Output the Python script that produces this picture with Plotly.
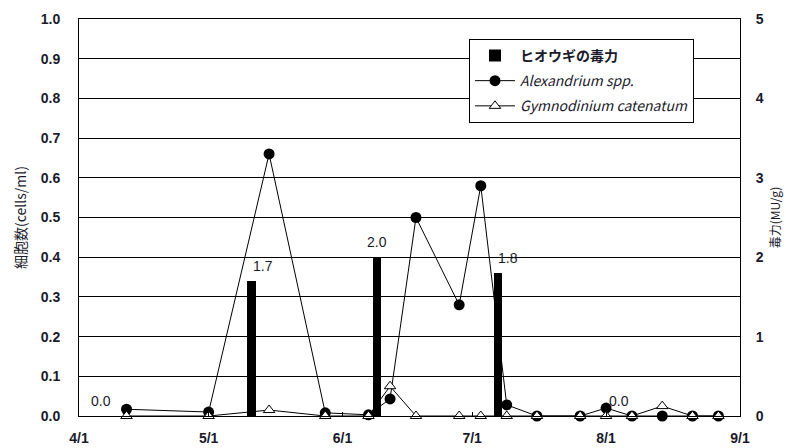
import plotly.graph_objects as go
from plotly.subplots import make_subplots

YEAR = "2006"

# --- data ---
sample_dates = ["04-12", "05-01", "05-15", "05-28", "06-07", "06-12", "06-18", "06-28",
                "07-03", "07-09", "07-16", "07-26", "08-01", "08-07", "08-14", "08-21", "08-27"]
alexandrium = [0.017, 0.010, 0.66, 0.008, 0.003, 0.043, 0.50, 0.28,
               0.58, 0.028, 0.0, 0.0, 0.020, 0.0, 0.0, 0.0, 0.0]
gymnodinium = [0.0, 0.0, 0.015, 0.0, 0.0, 0.075, 0.0, 0.0,
               0.0, 0.0, 0.0, 0.0, 0.0, 0.0, 0.025, 0.0, 0.0]

tox_dates = ["04-06", "05-11", "06-09", "07-07", "08-04"]
toxicity = [0.0, 1.7, 2.0, 1.8, 0.0]
tox_labels = ["0.0", "1.7", "2.0", "1.8", "0.0"]

month_ticks = ["04-01", "05-01", "06-01", "07-01", "08-01", "09-01"]
month_labels = ["4/1", "5/1", "6/1", "7/1", "8/1", "9/1"]

# label horizontal nudges (style only)
label_xshift = [0, 11, 0, 10, 0]

def d(s):
    return f"{YEAR}-{s}"

sx = [d(s) for s in sample_dates]
tx = [d(s) for s in tox_dates]

FONT = "Liberation Sans, Arial, Noto Sans CJK JP, sans-serif"
JP = "Noto Sans CJK JP, Liberation Sans, sans-serif"
TXT = "#1a1a2a"

fig = make_subplots(specs=[[{"secondary_y": True}]])

fig.add_trace(go.Bar(
    x=tx, y=toxicity, name="<b>ヒオウギの毒力</b>", legendgroup="a",
    marker=dict(color="black", line=dict(width=0)),
    width=2 * 86400000,
), secondary_y=True)

fig.add_trace(go.Scatter(
    x=sx, y=alexandrium, name="<i>Alexandrium spp.</i>", mode="lines+markers",
    legendgroup="b",
    line=dict(color="black", width=1),
    marker=dict(symbol="circle", size=11, color="black"),
    cliponaxis=False,
), secondary_y=False)

fig.add_trace(go.Scatter(
    x=sx, y=gymnodinium, name="<i>Gymnodinium catenatum</i>", mode="lines+markers",
    legendgroup="c",
    line=dict(color="black", width=1),
    marker=dict(symbol="triangle-up", size=10, color="white", line=dict(color="black", width=1)),
    cliponaxis=False,
), secondary_y=False)

for xv, yv, lab, xs in zip(tx, toxicity, tox_labels, label_xshift):
    fig.add_annotation(x=xv, y=yv, yref="y2", text=lab, showarrow=False,
                       yanchor="bottom", yshift=5, xshift=xs,
                       font=dict(family=FONT, size=14, color=TXT))

fig.update_layout(
    width=786, height=448,
    margin=dict(l=79, r=46, t=19, b=32, autoexpand=False),
    paper_bgcolor="white", plot_bgcolor="white",
    font=dict(family=FONT, size=13, color=TXT),
    showlegend=True,
    legend=dict(x=0.590, y=0.950, xanchor="left", yanchor="top",
                bgcolor="white", bordercolor="black", borderwidth=1,
                font=dict(family=JP, size=14, color=TXT),
                tracegroupgap=4, itemwidth=40),
    bargap=0,
)

fig.update_xaxes(
    type="date", automargin=False, domain=[0, 1],
    range=[d("04-01"), d("09-01")],
    tickvals=[d(s) for s in month_ticks], ticktext=month_labels,
    ticks="inside", ticklen=4, tickcolor="black",
    ticklabelstandoff=9,
    showline=True, linecolor="black", linewidth=1, mirror=True,
    showgrid=False, zeroline=False,
    tickfont=dict(family=FONT, size=14, color=TXT, weight="bold"),
)

fig.update_yaxes(
    range=[0, 1.0], dtick=0.1, tickformat=".1f", automargin=False,
    showgrid=True, gridcolor="black", gridwidth=1,
    showline=True, linecolor="black", linewidth=1, zeroline=False,
    ticks="", ticklabelstandoff=15,
    tickfont=dict(family=FONT, size=14, color=TXT, weight="bold"),
    title=dict(text="細胞数(cells/ml)", font=dict(family=JP, size=14, color=TXT), standoff=10),
    secondary_y=False,
)

fig.update_yaxes(
    range=[0, 5], dtick=1, automargin=False,
    showgrid=False, showline=True, linecolor="black", linewidth=1, zeroline=False,
    ticks="", ticklabelstandoff=12,
    tickfont=dict(family=FONT, size=14, color=TXT, weight="bold"),
    title=dict(text="毒力(MU/g)", font=dict(family=JP, size=12, color=TXT), standoff=8),
    secondary_y=True,
)

fig.write_html("out.html",
               config={"displayModeBar": False},
               post_script="document.body.style.margin='0';document.body.style.padding='0';")
